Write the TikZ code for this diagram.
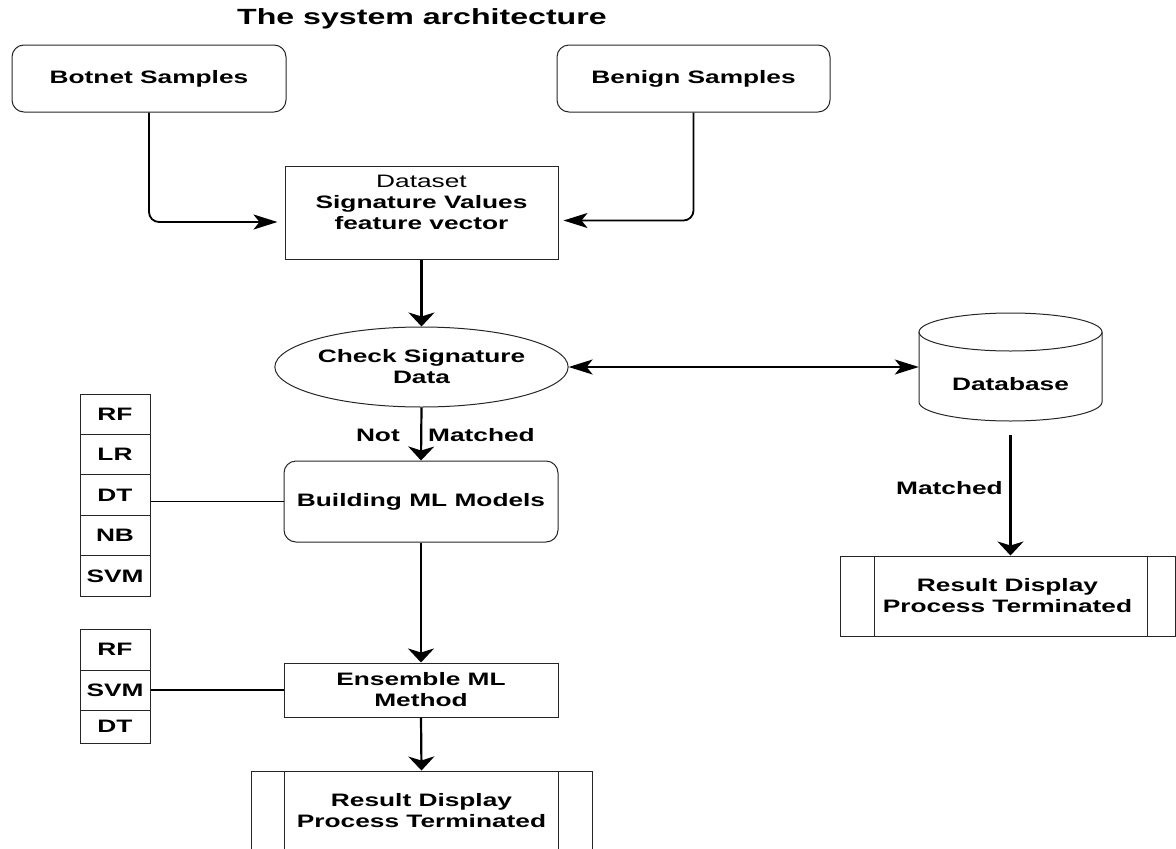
\documentclass[tikz,border=0pt]{standalone}
\usepackage{fontspec}
\setmainfont{Liberation Sans}[FakeStretch=1.46]
\usepackage{tikz}
\usetikzlibrary{positioning,arrows.meta,shapes.geometric,calc}

\begin{document}
\begin{tikzpicture}[x=1pt, y=-1pt, font=\fontsize{18}{21}\selectfont\bfseries,
  box/.style={draw=black!85, line width=1pt, align=center, inner sep=0pt},
  rbox/.style={box, rounded corners=12pt},
  cell/.style={box, minimum width=70pt},
  link/.style={line width=1.6pt},
  vflow/.style={line width=2.2pt, -{Stealth[length=14pt, width=26pt, inset=4pt]}},
  hflow/.style={line width=1.8pt, -{Stealth[length=24pt, width=15pt, inset=6pt]}},
  dflow/.style={line width=1.6pt, {Stealth[length=24pt, width=15pt, inset=6pt]}-{Stealth[length=24pt, width=15pt, inset=6pt]}},
  lbl/.style={inner sep=0pt}]
\clip (0,0) rectangle (1176,849);
\useasboundingbox (0,0) rectangle (1176,849);

% title
\node[font=\fontsize{22}{26}\selectfont\bfseries] (title) at (422,19) {The system architecture};

% samples
\node[rbox, minimum width=274pt, minimum height=67pt] (botnet) at (149,78.5) {Botnet Samples};
\node[rbox, minimum width=273pt, minimum height=67pt] (benign) at (693.5,78.5) {Benign Samples};

% main column
\node[box, minimum width=273pt, minimum height=93pt] (ds) at (421.5,212.5)
  {{\mdseries Dataset}\\Signature Values\\feature vector\\~};
\node[box, ellipse, minimum width=273pt, minimum height=80pt] (check) at (421.5,367) {Check Signature\\Data};
\node[rbox, minimum width=274pt, minimum height=81pt] (build) at (421,501.5) {Building ML Models};
\node[box, minimum width=274pt, minimum height=54pt] (ens) at (421,690) {Ensemble ML\\Method};
\node[box, minimum width=341pt, minimum height=80pt] (res1) at (421.5,811) {Result Display\\Process Terminated};
\draw[black!85, line width=1pt] ([xshift=34pt]res1.north west) -- ([xshift=34pt]res1.south west)
  ([xshift=-34pt]res1.north east) -- ([xshift=-34pt]res1.south east);

% database
\node[lbl, minimum width=183pt, minimum height=108pt] (db) at (1010.5,367) {};
\draw[black!85, line width=1pt] (919,332) -- (919,402) arc[start angle=180, end angle=0, x radius=91.5, y radius=19] -- (1102,332);
\draw[black!85, line width=1pt] (1010.5,332) ellipse [x radius=91.5, y radius=19];
\node[lbl] (dbtext) at (1010.5,384) {Database};
\node[box, minimum width=335pt, minimum height=80pt] (res2) at (1007.5,596) {Result Display\\Process Terminated};
\draw[black!85, line width=1pt] ([xshift=35pt]res2.north west) -- ([xshift=35pt]res2.south west)
  ([xshift=-28pt]res2.north east) -- ([xshift=-28pt]res2.south east);

% model lists
\foreach \m [count=\i] in {RF,LR,DT,NB,SVM}
  \node[cell, minimum height=40.4pt] (bm\i) at (115,{414.2+40.4*(\i-1)}) {\m};
\node[cell, minimum height=41pt] (em1) at (115,649.5) {RF};
\node[cell, minimum height=40pt] (em2) at (115,690) {SVM};
\node[cell, minimum height=33pt] (em3) at (115,726.5) {DT};
\draw[link] (bm3.east |- build.west) -- (build.west);
\draw[link] (em2.east) -- (ens.west);

% flows
\draw[hflow, rounded corners=10pt, shorten >=7pt] (botnet.south) |- ([yshift=-9.5pt]ds.west);
\draw[hflow, rounded corners=10pt, shorten >=5pt] (benign.south) |- ([yshift=-8pt]ds.east);
\draw[vflow] (ds.south) -- (check.north);
\draw[dflow] (check.east) -- (db.west);
\draw[vflow] (check.south) -- (build.north);
\draw[vflow] (build.south) -- (ens.north);
\draw[vflow] (ens.south) -- (res1.north);
\draw[vflow, shorten <=14pt] (db.south) -- (db.south |- res2.north);

% labels
\node[lbl, anchor=east] (notlbl) at (400,435) {Not};
\node[lbl, anchor=west] (nmlbl) at (428,435) {Matched};
\node[lbl, anchor=east] (mlbl) at (1003,488) {Matched};
\end{tikzpicture}
\end{document}
